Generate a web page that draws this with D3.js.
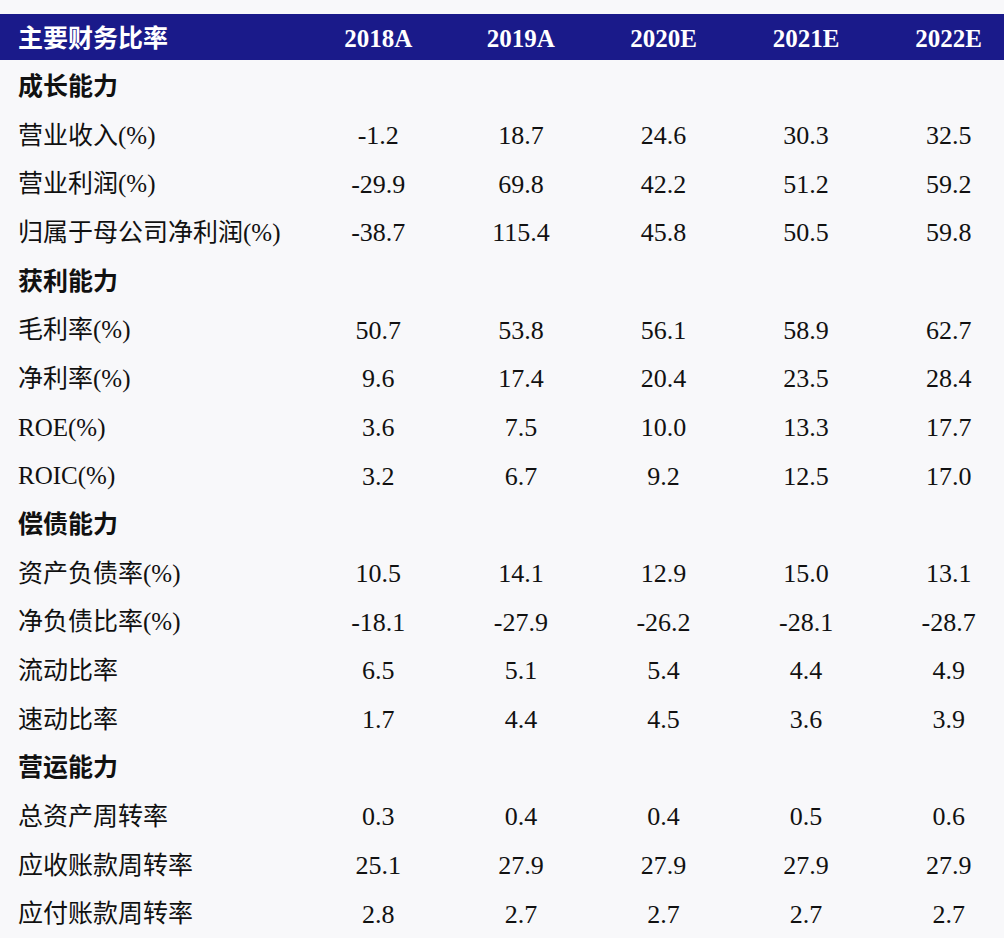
<!DOCTYPE html>
<html><head><meta charset="utf-8">
<script src="https://cdn.jsdelivr.net/npm/d3@7"></script>
<style>body{margin:0;background:#f8f8fa}</style></head>
<body><svg id="c" width="1004" height="938"></svg>
<script>
const title = "主要财务比率";
const years = ["2018A","2019A","2020E","2021E","2022E"];
const rowLabels = ["成长能力","营业收入(%)","营业利润(%)","归属于母公司净利润(%)","获利能力","毛利率(%)","净利率(%)","ROE(%)","ROIC(%)","偿债能力","资产负债率(%)","净负债比率(%)","流动比率","速动比率","营运能力","总资产周转率","应收账款周转率","应付账款周转率"];
const isSection = [true,false,false,false,true,false,false,false,false,true,false,false,false,false,true,false,false,false];
const rowValues = [
 null,
 ["-1.2","18.7","24.6","30.3","32.5"],
 ["-29.9","69.8","42.2","51.2","59.2"],
 ["-38.7","115.4","45.8","50.5","59.8"],
 null,
 ["50.7","53.8","56.1","58.9","62.7"],
 ["9.6","17.4","20.4","23.5","28.4"],
 ["3.6","7.5","10.0","13.3","17.7"],
 ["3.2","6.7","9.2","12.5","17.0"],
 null,
 ["10.5","14.1","12.9","15.0","13.1"],
 ["-18.1","-27.9","-26.2","-28.1","-28.7"],
 ["6.5","5.1","5.4","4.4","4.9"],
 ["1.7","4.4","4.5","3.6","3.9"],
 null,
 ["0.3","0.4","0.4","0.5","0.6"],
 ["25.1","27.9","27.9","27.9","27.9"],
 ["2.8","2.7","2.7","2.7","2.7"]
];
const svg = d3.select("#c");
const x = d3.scaleBand().domain(years).range([307,1020]);
const y = d3.scaleBand().domain(d3.range(rowLabels.length)).range([62,938]);
const serif = "'Liberation Serif','Noto Sans CJK SC',serif";
const cjk = "'Noto Sans CJK SC',sans-serif";
svg.append("rect").attr("x",0).attr("y",14).attr("width",1004).attr("height",46).attr("fill","#1a1a8a");
svg.append("text").attr("x",18).attr("y",38).attr("dy","0.35em").attr("fill","#fff")
  .attr("font-family",cjk).attr("font-weight","bold").attr("font-size",25).text(title);
svg.selectAll(".yh").data(years).join("text").attr("x",d=>x(d)+x.bandwidth()/2).attr("y",38).attr("dy","0.35em")
  .attr("text-anchor","middle").attr("fill","#fff").attr("font-family",serif).attr("font-weight","bold").attr("font-size",25).text(d=>d);
const rows = svg.selectAll(".r").data(rowLabels.map((l,i)=>({l,i}))).join("g").attr("transform",d=>`translate(0,${y(d.i)+y.bandwidth()/2})`);
rows.append("text").attr("x",18).attr("dy","0.35em").attr("fill","#111")
  .attr("font-family",d=>isSection[d.i]?cjk:serif).attr("font-weight",d=>isSection[d.i]?"bold":"normal")
  .attr("font-size",25).text(d=>d.l);
rows.filter(d=>rowValues[d.i]).selectAll(".v").data(d=>rowValues[d.i].map((v,j)=>({v,y:years[j]}))).join("text")
  .attr("x",d=>x(d.y)+x.bandwidth()/2).attr("dy","0.35em").attr("text-anchor","middle").attr("fill","#111")
  .attr("font-family",serif).attr("font-size",26).text(d=>d.v);
</script></body></html>
